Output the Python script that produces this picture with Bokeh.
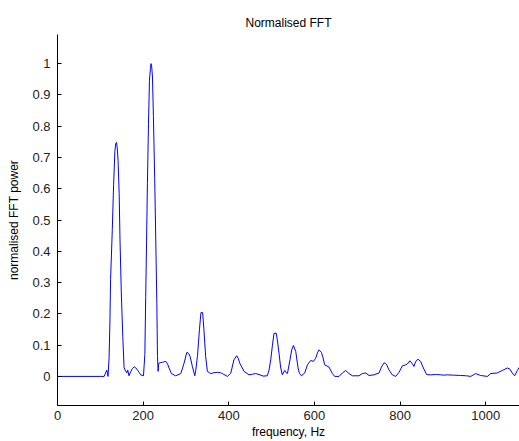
from bokeh.plotting import figure
from bokeh.models import Range1d, FixedTicker
from bokeh.embed import file_html
from bokeh.resources import INLINE

freq = [0, 100, 109, 112, 115, 117, 118, 120.5, 122.5, 124, 128, 131, 134, 136, 138, 139.5,
        141.5, 144, 146, 149, 152.5, 155.5, 158, 161.8, 164, 167, 171, 175, 179, 183, 187,
        191, 194.5, 200.8, 204, 206, 208, 210, 212.5, 214.8, 217, 218.5, 220, 221.8, 224,
        227, 229.5, 232, 233.5, 235, 236.5, 240, 245, 249, 253, 257, 260.5, 266, 276, 288,
        295.5, 302, 306, 309.6, 315, 320.6, 323, 327, 331.6, 335, 339, 342, 346, 350, 358,
        366, 373.6, 380, 385, 397, 404.6, 412, 418.6, 422, 426.4, 435.7, 447.4, 455, 463,
        473, 480, 490, 494, 498, 502, 505.7, 511, 514, 517.4, 521, 525, 530.7, 534, 537,
        543, 547, 551, 556.4, 561.8, 565, 569.7, 577.4, 583.7, 591.4, 597.7, 603, 607,
        610.8, 616.4, 620, 624, 634, 642, 647.4, 657.5, 665.4, 673, 681, 688.8, 704, 712,
        720, 727.5, 739, 751, 756.5, 762.6, 766, 769, 774, 782, 790, 797.6, 805.5, 813,
        817, 823, 829, 832.6, 836.6, 842, 848, 854.5, 862, 871.6, 885, 895, 903, 910, 925,
        941.6, 955, 965, 976.6, 988, 1004, 1011.7, 1027, 1039, 1050.7, 1056.8, 1062,
        1067.7, 1074, 1079, 1085]
power = [0, 0, 0, 0.01, 0.02, 0.008, 0.0, 0.06, 0.18, 0.31, 0.47, 0.61, 0.72, 0.745, 0.748,
         0.73, 0.69, 0.585, 0.436, 0.267, 0.128, 0.028, 0.02, 0.011, 0.02, 0.002, 0.015,
         0.025, 0.031, 0.027, 0.02, 0.012, 0.005, 0.002, 0.07, 0.255, 0.43, 0.617, 0.808,
         0.947, 0.985, 1.0, 0.99, 0.957, 0.83, 0.633, 0.436, 0.234, 0.064, 0.016, 0.042,
         0.044, 0.045, 0.047, 0.048, 0.04, 0.027, 0.009, 0.002, 0.009, 0.042, 0.077, 0.074,
         0.064, 0.032, 0.002, 0.02, 0.066, 0.151, 0.204, 0.204, 0.149, 0.064, 0.016, 0.009,
         0.012, 0.013, 0.012, 0.009, 0.0, 0.01, 0.053, 0.066, 0.058, 0.04, 0.016, 0.005,
         0.007, 0.009, 0.005, 0.001, 0.002, 0.02, 0.053, 0.1, 0.138, 0.138, 0.11, 0.074,
         0.03, 0.005, 0.019, 0.012, 0.009, 0.053, 0.085, 0.099, 0.08, 0.027, 0.01, 0.002,
         0.011, 0.037, 0.051, 0.048, 0.058, 0.075, 0.085, 0.077, 0.06, 0.037, 0.03, 0.009,
         0.0, 0.0, 0.011, 0.019, 0.009, 0.002, 0.002, 0.009, 0.011, 0.003, 0.005, 0.011,
         0.03, 0.043, 0.042, 0.037, 0.021, 0.005, 0.0, 0.013, 0.034, 0.037, 0.04, 0.05,
         0.04, 0.032, 0.048, 0.055, 0.048, 0.027, 0.006, 0.005, 0.006, 0.005, 0.004, 0.005,
         0.004, 0.003, 0.002, 0.0, 0.009, 0.003, 0.0, 0.009, 0.011, 0.019, 0.027, 0.023,
         0.011, 0.002, 0.019, 0.03, 0.035]

x_ticks = [0, 200, 400, 600, 800, 1000]
y_ticks = [0, 0.1, 0.2, 0.3, 0.4, 0.5, 0.6, 0.7, 0.8, 0.9, 1]

FONT = "Liberation Sans"

p = figure(width=519, height=441, output_backend="svg", toolbar_location=None,
           x_range=Range1d(0, 1079), y_range=Range1d(-0.093, 1.093),
           title="Normalised FFT")
p.min_border_left = 57
p.min_border_right = 0
p.min_border_top = 34
p.min_border_bottom = 35
p.outline_line_color = None
p.background_fill_color = "white"
p.border_fill_color = "white"
p.xgrid.visible = False
p.ygrid.visible = False

p.title.align = "center"
p.title.text_font = FONT
p.title.text_font_size = "12px"
p.title.text_font_style = "normal"
p.title.text_color = "black"
p.title.standoff = 10

p.line(freq, power, line_color="#0000ff", line_width=1)

for ax, ticks in ((p.xaxis[0], x_ticks), (p.yaxis[0], y_ticks)):
    ax.ticker = FixedTicker(ticks=ticks)
    ax.major_tick_in = 4
    ax.major_tick_out = 0
    ax.minor_tick_line_color = None
    ax.axis_line_color = "black"
    ax.major_tick_line_color = "black"
    ax.major_label_text_font = FONT
    ax.major_label_text_font_size = "13px"
    ax.major_label_text_color = "#222222"
    ax.axis_label_text_font = FONT
    ax.axis_label_text_font_size = "12px"
    ax.axis_label_text_font_style = "normal"
    ax.axis_label_text_color = "black"

p.xaxis.axis_label = "frequency, Hz"
p.yaxis.axis_label = "normalised FFT power"
p.xaxis.major_label_standoff = 5
p.xaxis.axis_label_standoff = 2
p.yaxis.major_label_standoff = 7
p.yaxis.axis_label_standoff = 8

open("out.html", "w").write(file_html(p, INLINE))
